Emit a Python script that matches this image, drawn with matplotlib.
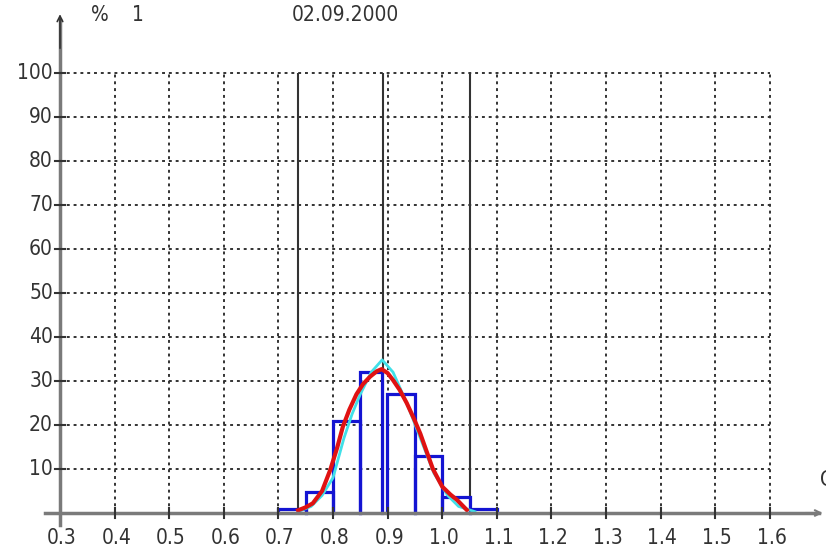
import matplotlib
matplotlib.use("Agg")
import matplotlib.pyplot as plt
from matplotlib import font_manager

# histogram bins (left edge, right edge, percent)
bin_left = [0.700, 0.750, 0.800, 0.850, 0.898, 0.950, 1.000, 1.050]
bin_right = [0.750, 0.800, 0.850, 0.889, 0.950, 1.000, 1.050, 1.100]
bin_pct = [0.8, 4.8, 21, 32, 27, 13, 3.6, 0.9]

# fitted curves
red_x = [0.736, 0.750, 0.763, 0.780, 0.795, 0.808, 0.818, 0.830, 0.843, 0.855, 0.868, 0.880, 0.889,
         0.900, 0.910, 0.922, 0.935, 0.948, 0.960, 0.972, 0.983, 1.000, 1.015, 1.027, 1.045]
red_y = [0.6, 1.3, 2.2, 5.0, 9.8, 15.0, 19.6, 23.5, 27.0, 29.3, 31.0, 32.2, 32.7,
         31.8, 30.2, 28.0, 25.0, 21.5, 18.0, 13.8, 10.0, 6.0, 4.2, 3.0, 0.7]
cyan_x = [0.740, 0.760, 0.780, 0.800, 0.820, 0.835, 0.850, 0.870, 0.890, 0.910, 0.935, 0.960,
          0.985, 1.010, 1.030, 1.060]
cyan_y = [0.5, 1.5, 4.0, 8.0, 17.0, 22.5, 27.0, 32.0, 34.8, 32.0, 25.0, 17.0, 9.0, 4.0, 1.5, 0.3]

# vertical markers
marks = [0.736, 0.892, 1.051]

x_ticks = [0.3, 0.4, 0.5, 0.6, 0.7, 0.8, 0.9, 1.0, 1.1, 1.2, 1.3, 1.4, 1.5, 1.6]
y_ticks = [10, 20, 30, 40, 50, 60, 70, 80, 90, 100]

names = {f.name for f in font_manager.fontManager.ttflist}
if 'Liberation Sans Narrow' in names:
    plt.rcParams['font.family'] = ['Liberation Sans Narrow', 'DejaVu Sans']
    stretch = 'normal'
else:
    plt.rcParams['font.family'] = ['DejaVu Sans']
    stretch = 'condensed'

fig = plt.figure(figsize=(8.26, 5.56), dpi=100)
ax = fig.add_axes([0, 0, 1, 1])
ax.set_xlim(0.19011, 1.70293)
ax.set_ylim(-9.77, 116.59)
ax.axis('off')

dark = '#333333'
axc = '#7a7a7a'

# dotted grid
ax.hlines(y_ticks, 0.3, 1.6, colors=dark, linestyles=(0, (1.5, 2.0)), linewidth=1.4)
ax.vlines(x_ticks[1:], 0, 100, colors=dark, linestyles=(0, (1.5, 2.0)), linewidth=1.4)

# solid markers
ax.vlines(marks, 0, 100, colors=dark, linewidth=1.5)

# histogram
for l, r, h in zip(bin_left, bin_right, bin_pct):
    ax.plot([l, l, r, r], [0, h, h, 0], color='#1414d2', linewidth=2.3, solid_joinstyle='miter')

ax.plot(cyan_x, cyan_y, color='#40e0e8', linewidth=2)
ax.plot(red_x, red_y, color='#e01212', linewidth=3)

# axes with arrows
ax.plot([0.3, 0.3], [-2.7, 112], color=axc, linewidth=2.5)
ax.annotate('', xy=(0.3, 114), xytext=(0.3, 105),
            arrowprops=dict(arrowstyle='->', color=dark, lw=1.2))
ax.plot([0.272, 1.69], [0, 0], color=axc, linewidth=2.5)
ax.annotate('', xy=(1.702, 0), xytext=(1.66, 0),
            arrowprops=dict(arrowstyle='->', color=axc, lw=1.5))

# tick marks
for y in y_ticks:
    ax.plot([0.291, 0.309], [y, y], color=dark, linewidth=1.5)
for x in x_ticks[1:]:
    ax.plot([x, x], [-1.2, 1.2], color=dark, linewidth=1.5)

lab = dict(fontsize=15, color='#333333', fontstretch=stretch)
for y in y_ticks:
    ax.text(0.287, y, str(y), ha='right', va='center', **lab)
for x in x_ticks:
    ax.text(x + 0.003, -5.6, f'{x:.1f}', ha='center', va='center', **lab)

ax.text(0.373, 113.2, '%', ha='center', va='center', **lab)
ax.text(0.443, 113.2, '1', ha='center', va='center', **lab)
ax.text(0.822, 113.2, '02.09.2000', ha='center', va='center', **lab)
ax.text(1.692, 7.5, 'C', ha='left', va='center', **lab)

fig.savefig('out.png', dpi=100)
